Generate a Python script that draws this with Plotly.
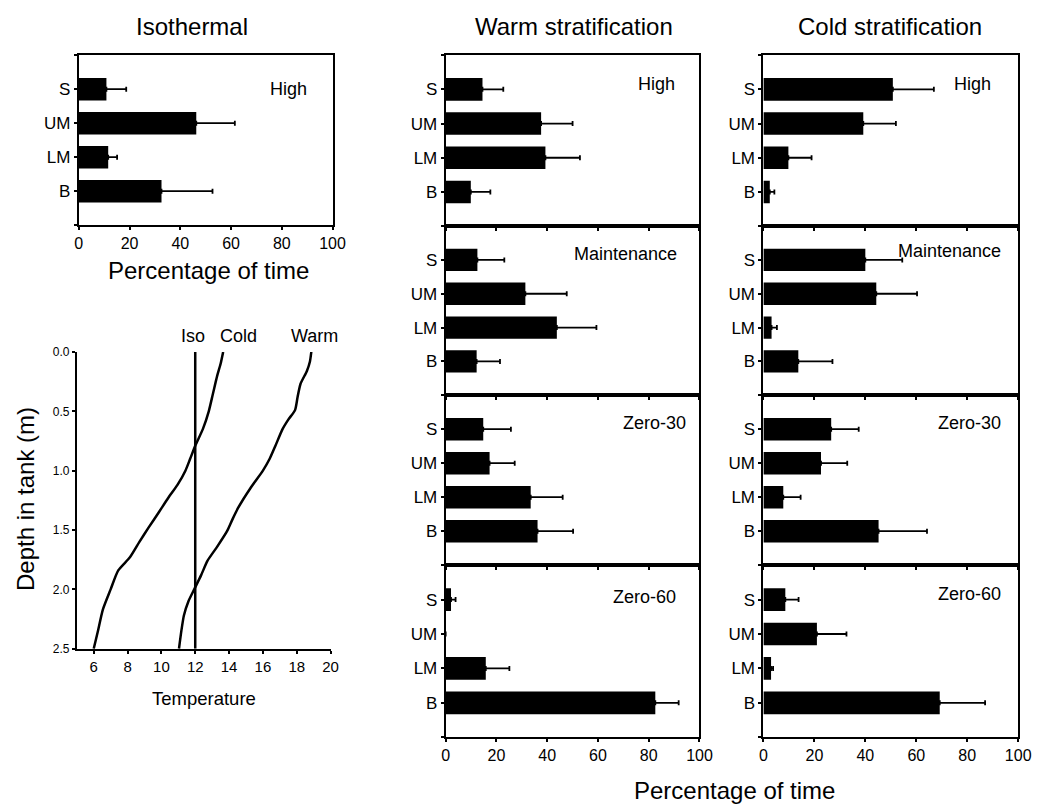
import plotly.graph_objects as go

FONT = "Liberation Sans, Arial, sans-serif"

# Depth zones, bottom to top along each bar panel's y axis
zones = ["B", "LM", "UM", "S"]

# Isothermal tank, "High" treatment: mean % of time and upper error
iso_high = [32.6, 11.6, 46.3, 10.9]
iso_high_err = [20.1, 3.5, 15.2, 7.8]

# Warm stratification treatments
warm_high = [9.9, 39.3, 37.6, 14.5]
warm_high_err = [7.7, 13.6, 12.4, 8.2]
warm_maint = [12.2, 43.8, 31.4, 12.5]
warm_maint_err = [9.2, 15.6, 16.3, 10.6]
warm_z30 = [36.2, 33.5, 17.3, 14.8]
warm_z30_err = [14.0, 12.6, 9.9, 10.9]
warm_z60 = [82.6, 15.8, 0.0, 2.1]
warm_z60_err = [9.2, 9.3, None, 1.8]

# Cold stratification treatments
cold_high = [2.5, 9.8, 39.2, 50.8]
cold_high_err = [1.8, 9.1, 12.8, 16.1]
cold_maint = [13.7, 3.2, 44.3, 40.0]
cold_maint_err = [13.4, 2.1, 16.0, 14.5]
cold_z30 = [45.2, 7.8, 22.6, 26.6]
cold_z30_err = [19.0, 6.8, 10.3, 10.8]
cold_z60 = [69.2, 3.0, 21.0, 8.6]
cold_z60_err = [17.8, 0.8, 11.6, 5.2]

# Temperature profiles (depth in m, temperature in deg C)
iso_depth = [0.0, 2.5]
iso_temp = [12.0, 12.0]
cold_depth = [0.0, 0.1, 0.2, 0.35, 0.5, 0.65, 0.79, 0.9, 1.0, 1.12, 1.23, 1.35, 1.48, 1.6, 1.73, 1.84, 2.0, 2.17, 2.35, 2.5]
cold_temp = [13.65, 13.5, 13.3, 13.05, 12.8, 12.45, 12.0, 11.7, 11.42, 10.95, 10.4, 9.85, 9.24, 8.7, 8.14, 7.45, 7.0, 6.54, 6.25, 6.0]
warm_depth = [0.0, 0.08, 0.16, 0.27, 0.38, 0.49, 0.57, 0.65, 0.79, 0.9, 1.0, 1.15, 1.31, 1.41, 1.51, 1.64, 1.76, 1.88, 2.0, 2.1, 2.22, 2.35, 2.5]
warm_temp = [18.86, 18.78, 18.6, 18.22, 18.05, 17.9, 17.5, 17.16, 16.74, 16.4, 16.0, 15.25, 14.55, 14.2, 13.88, 13.3, 12.72, 12.35, 11.94, 11.6, 11.33, 11.18, 11.04]

W, H = 1043, 812


def px_x(a, b):
    return [a / W, b / W]


def px_y(top, bottom):
    return [1 - bottom / H, 1 - top / H]


fig = go.Figure()

# (axis index, values, errors, x-domain px, y-domain px, label, label pos, show x tick labels)
panels = [
    (1, iso_high, iso_high_err, (76, 334), (49, 222), "High", (82.7, 4.0), True),
    (3, warm_high, warm_high_err, (449, 707), (49, 223), "High", (83, 4.17), False),
    (4, warm_maint, warm_maint_err, (449, 707), (223, 395), "Maintenance", (71, 4.19), False),
    (5, warm_z30, warm_z30_err, (449, 707), (395, 568), "Zero-30", (82.3, 4.19), False),
    (6, warm_z60, warm_z60_err, (449, 707), (568, 743), "Zero-60", (78.4, 4.09), True),
    (7, cold_high, cold_high_err, (772, 1031), (49, 223), "High", (82, 4.15), False),
    (8, cold_maint, cold_maint_err, (772, 1031), (223, 395), "Maintenance", (73, 4.27), False),
    (9, cold_z30, cold_z30_err, (772, 1031), (395, 568), "Zero-30", (80.7, 4.19), False),
    (10, cold_z60, cold_z60_err, (772, 1031), (568, 743), "Zero-60", (81, 4.17), True),
]

layout_axes = {}
annotations = []

for idx, vals, errs, xd, yd, label, lpos, show_x in panels:
    suffix = "" if idx == 1 else str(idx)
    errs_clean = [float("nan") if e is None else e for e in errs]
    fig.add_trace(go.Bar(
        x=vals, y=[1, 2, 3, 4], orientation="h",
        marker=dict(color="black", line=dict(width=0)),
        width=0.66,
        error_x=dict(type="data", array=errs_clean, arrayminus=[0] * 4,
                     symmetric=False, color="black", thickness=1.8, width=2.5),
        xaxis="x" + suffix, yaxis="y" + suffix, showlegend=False,
    ))
    layout_axes["xaxis" + suffix] = dict(
        domain=px_x(*xd), range=[0, 100], anchor="y" + suffix,
        tickvals=[0, 20, 40, 60, 80, 100], showticklabels=show_x,
        ticks="outside", ticklen=3, tickwidth=1.5, tickcolor="black",
        showline=True, linecolor="black", linewidth=2, mirror=True,
        showgrid=False, zeroline=False,
        tickfont=dict(family=FONT, size=16, color="black"),
    )
    layout_axes["yaxis" + suffix] = dict(
        domain=px_y(*yd), range=[0, 5], anchor="x" + suffix,
        tickvals=[0, 1, 2, 3, 4, 5], ticktext=["", "B", "LM", "UM", "S", ""],
        ticks="outside", ticklen=3, tickwidth=1.5, tickcolor="black",
        showline=True, linecolor="black", linewidth=2, mirror=True,
        showgrid=False, zeroline=False,
        tickfont=dict(family=FONT, size=17, color="black"),
    )
    annotations.append(dict(
        x=lpos[0], y=lpos[1], xref="x" + suffix, yref="y" + suffix,
        text=label, showarrow=False, xanchor="center", yanchor="middle",
        font=dict(family=FONT, size=18, color="black"),
    ))

# Temperature profiles panel
for t, d in [(iso_temp, iso_depth), (cold_temp, cold_depth), (warm_temp, warm_depth)]:
    fig.add_trace(go.Scatter(
        x=t, y=d, mode="lines", line=dict(color="black", width=2.5, shape="spline", smoothing=0.6),
        xaxis="x2", yaxis="y2", showlegend=False,
    ))

layout_axes["xaxis2"] = dict(
    domain=px_x(74, 332), range=[5, 20], anchor="y2",
    tickvals=[6, 8, 10, 12, 14, 16, 18, 20],
    ticks="outside", ticklen=3, tickwidth=1.5, tickcolor="black",
    showline=True, linecolor="black", linewidth=2, mirror=False,
    showgrid=False, zeroline=False,
    tickfont=dict(family=FONT, size=15, color="black"),
)
layout_axes["yaxis2"] = dict(
    domain=px_y(351, 653), range=[2.5, 0], anchor="x2",
    tickvals=[0, 0.5, 1.0, 1.5, 2.0, 2.5], tickformat=".1f",
    ticks="outside", ticklen=3, tickwidth=1.5, tickcolor="black",
    showline=True, linecolor="black", linewidth=2, mirror=False,
    showgrid=False, zeroline=False,
    tickfont=dict(family=FONT, size=12, color="black"),
)


def paper_text(text, x, y, size, angle=0):
    annotations.append(dict(
        x=x / W, y=1 - y / H, xref="paper", yref="paper", text=text,
        showarrow=False, xanchor="center", yanchor="middle", textangle=angle,
        font=dict(family=FONT, size=size, color="black"),
    ))


paper_text("Isothermal", 191, 20, 24)
paper_text("Warm stratification", 579, 20, 24)
paper_text("Cold stratification", 901, 20, 24)
paper_text("Percentage of time", 208, 268, 24)
paper_text("Percentage of time", 743, 797, 24)
paper_text("Depth in tank (m)", 22, 501, 24, angle=-90)
paper_text("Temperature", 203, 704, 18.5)
paper_text("Iso", 192, 335, 18)
paper_text("Cold", 238, 335, 18)
paper_text("Warm", 316, 335, 18)

fig.update_layout(
    width=W, height=H, margin=dict(l=0, r=0, t=0, b=0),
    paper_bgcolor="white", plot_bgcolor="white",
    annotations=annotations, bargap=0.34, **layout_axes,
)

fig.write_html("out.html")
